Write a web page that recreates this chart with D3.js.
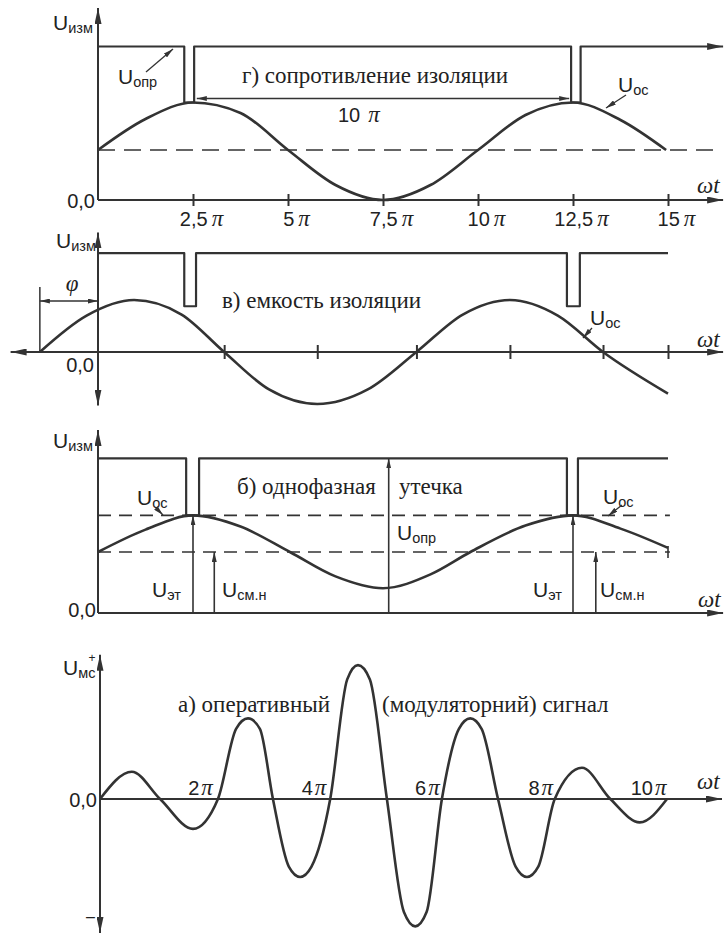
<!DOCTYPE html>
<html>
<head>
<meta charset="utf-8">
<script src="https://cdn.jsdelivr.net/npm/d3@7"></script>
<style>
  body { margin: 0; background: #fff; }
  text { fill: #222; }
  .sans { font-family: "Liberation Sans", Arial, sans-serif; }
  .serif { font-family: "Liberation Serif", "DejaVu Serif", "Times New Roman", serif; }
  .it { font-family: "Liberation Serif", "DejaVu Serif", "Times New Roman", serif; font-style: italic; }
</style>
</head>
<body>
<svg width="727" height="936"></svg>
<script>
// ωt in units of π, U in arbitrary units

// г) сопротивление изоляции
const gTicks = [2.5, 5, 7.5, 10, 12.5, 15];
const gTickLabels = ["2,5", "5", "7,5", "10", "12,5", "15"];
const gCurve = [[0, 1.0], [1.25, 1.62], [2.5, 1.95], [3.75, 1.74], [5, 1.0], [6.25, 0.3], [7.5, 0.0],
                [8.75, 0.3], [10, 1.0], [11.25, 1.7], [12.5, 1.95], [13.75, 1.6], [14.95, 1.0]];
const gHigh = 3.07, gLow = 1.95;
const gGaps = [[2.27, 2.53], [12.45, 12.7]];
const gDash = 1.0;
const gPeriod = [2.6, 12.4], gPeriodLevel = 2.03;

// в) емкость изоляции
const cTicks = [3.32, 5.77, 8.38, 10.84, 13.29, 15];
const cCurve = [[-1.53, 0], [-0.3, 0.7], [0.95, 1.0], [2.2, 0.72], [3.32, 0], [4.5, -0.72], [5.77, -1.0],
                [7.1, -0.72], [8.38, 0], [9.6, 0.72], [10.84, 1.0], [12.1, 0.7], [13.29, 0], [15, -0.8]];
const cHigh = 1.9, cLow = 0.88;
const cGaps = [[2.27, 2.58], [12.34, 12.68]];
const cPhase = -1.53;

// б) однофазная утечка
const lCurve = [[0, 3.0], [1.25, 4.1], [2.5, 4.8], [3.75, 4.25], [5.05, 3.0], [6.25, 1.8], [7.5, 1.22],
                [8.75, 1.9], [9.8, 3.0], [11.25, 4.3], [12.5, 4.8], [13.75, 4.15], [15, 3.2]];
const lHigh = 7.6, lLow = 4.8;
const lGaps = [[2.32, 2.66], [12.34, 12.63]];
const lDash = [4.8, 3.0];
const lEt = [2.5, 12.5], lSm = [3.06, 13.1], lOpr = 7.65;

// а) оперативный (модуляторный) сигнал
const aTicks = [2, 4, 6, 8, 10];
const aCurve = [[0, 0], [0.56, 0.21], [1.06, 0], [1.64, -0.23], [2.08, 0],
                [2.4, 0.54], [2.61, 0.62], [2.82, 0.54], [3.05, 0],
                [3.33, -0.52], [3.53, -0.6], [3.73, -0.52], [4.06, 0],
                [4.36, 0.92], [4.55, 1.03], [4.76, 0.92], [5.06, 0],
                [5.36, -0.87], [5.56, -0.98], [5.76, -0.87], [6.03, 0],
                [6.33, 0.54], [6.53, 0.62], [6.73, 0.54], [7.02, 0],
                [7.33, -0.52], [7.53, -0.6], [7.73, -0.52], [8.02, 0],
                [8.5, 0.24], [9.0, 0], [9.52, -0.18], [10, 0]];

const ink = "#333";
const svg = d3.select("svg");
const defs = svg.append("defs");

function marker(id, len, wid) {
  defs.append("marker").attr("id", id)
    .attr("viewBox", `0 0 ${len} ${wid}`)
    .attr("refX", len).attr("refY", wid / 2)
    .attr("markerWidth", len).attr("markerHeight", wid)
    .attr("markerUnits", "userSpaceOnUse")
    .attr("orient", "auto-start-reverse")
    .append("path").attr("d", `M0,0L${len},${wid / 2}L0,${wid}Z`).attr("fill", ink);
}
marker("ax", 16, 7);
marker("ar", 10, 5);

function ln(g, xs, ys, pts, w, curve) {
  const gen = d3.line().x(d => xs(d[0])).y(d => ys(d[1]));
  if (curve) gen.curve(curve);
  return g.append("path").attr("d", gen(pts))
    .attr("fill", "none").attr("stroke", ink).attr("stroke-width", w)
    .attr("stroke-linejoin", "round");
}

function pulse(high, low, gaps, end) {
  const pts = [[0, high]];
  gaps.forEach(([a, b]) => pts.push([a, high], [a, low], [b, low], [b, high]));
  pts.push([end, high]);
  return pts;
}

function uLab(x, y, sub) {
  const t = svg.append("text").attr("class", "sans").attr("x", x).attr("y", y).style("font-size", "21px");
  t.append("tspan").text("U");
  t.append("tspan").attr("dy", 3).style("font-size", "14.5px").text(sub);
  return t;
}
function txt(x, y, s, cls, size, anchor) {
  return svg.append("text").attr("class", cls).attr("x", x).attr("y", y)
    .style("font-size", size + "px").attr("text-anchor", anchor || "start").text(s);
}
function arrow(x1, y1, x2, y2) {
  svg.append("line").attr("x1", x1).attr("y1", y1).attr("x2", x2).attr("y2", y2)
    .attr("stroke", ink).attr("stroke-width", 1.3).attr("marker-end", "url(#ar)");
}
function piLabels(sel, dx, anchor) {
  sel.each(function () {
    const t = d3.select(this), s = t.text();
    t.text(null).attr("class", "sans").style("font-size", "20px").attr("text-anchor", anchor).attr("fill", "#222");
    t.append("tspan").text(s);
    t.append("tspan").attr("class", "it").attr("dx", dx).style("font-size", "23px").text("π");
  });
}

const xT = d3.scaleLinear().domain([0, 15]).range([98, 668]);
const capSize = 23;

// ---------- г) ----------
const yG = d3.scaleLinear().domain([0, 3.84]).range([200, 8]);
const pG = svg.append("g");
ln(pG, xT, yG, [[0, gDash], [16.4, gDash]], 1.6).attr("stroke-dasharray", "17,9");
ln(pG, xT, yG, [[0, 0], [0, 3.84]], 2).attr("marker-end", "url(#ax)");
ln(pG, xT, yG, [[0, 0], [16.45, 0]], 2).attr("marker-end", "url(#ax)");
ln(pG, xT, yG, pulse(gHigh, gLow, gGaps, 16.45), 2.2).attr("marker-end", "url(#ax)");
ln(pG, xT, yG, gPeriod.map(v => [v, gPeriodLevel]), 1.6)
  .attr("marker-start", "url(#ar)").attr("marker-end", "url(#ar)");
ln(pG, xT, yG, gCurve, 2.6, d3.curveMonotoneX);
const axG = pG.append("g").attr("transform", `translate(0,${yG(0)})`).attr("color", ink)
  .call(d3.axisBottom(xT).tickValues(gTicks).tickSize(6).tickFormat((d, i) => gTickLabels[i]));
axG.select(".domain").remove();
axG.selectAll(".tick line").attr("y1", -6).attr("stroke-width", 2);
axG.selectAll(".tick text").attr("y", 26).attr("dy", null).attr("x", 8).call(piLabels, 4, "middle");

uLab(53, 30, "изм");
uLab(118, 84, "опр");
arrow(146, 72, 173, 49);
txt(242, 83, "г) сопротивление изоляции", "serif", capSize);
const t10 = txt(338, 122, "10", "sans", 20);
t10.append("tspan").attr("class", "it").attr("dx", 8).style("font-size", "23px").text("π");
uLab(618, 92, "ос");
arrow(626, 95, 606, 108);
txt(697, 193, "ωt", "it", 23);
txt(95, 208, "0,0", "sans", 20, "end");

// ---------- в) ----------
const yC = d3.scaleLinear().domain([-1, 2.3]).range([404, 232.4]);
const pC = svg.append("g");
ln(pC, xT, yC, [[0, -1.03], [0, 2.3]], 2).attr("marker-start", "url(#ax)").attr("marker-end", "url(#ax)");
ln(pC, xT, yC, [[-2.3, 0], [16.45, 0]], 2).attr("marker-start", "url(#ax)").attr("marker-end", "url(#ax)");
ln(pC, xT, yC, pulse(cHigh, cLow, cGaps, 15), 2.2);
ln(pC, xT, yC, cCurve, 2.6, d3.curveMonotoneX);
ln(pC, xT, yC, [[cPhase, 0], [cPhase, 1.25]], 1.5);
ln(pC, xT, yC, [[cPhase, 0.98], [0, 0.98]], 1.5)
  .attr("marker-start", "url(#ar)").attr("marker-end", "url(#ar)");
const axC = pC.append("g").attr("transform", `translate(0,${yC(0)})`).attr("color", ink)
  .call(d3.axisBottom(xT).tickValues(cTicks).tickSize(7).tickFormat(""));
axC.select(".domain").remove();
axC.selectAll(".tick line").attr("y1", -7).attr("stroke-width", 2);

uLab(56, 248, "изм");
txt(72, 291, "φ", "it", 23, "middle");
txt(222, 308, "в) емкость изоляции", "serif", capSize);
uLab(590, 325, "ос");
arrow(592, 328, 583, 338);
txt(697, 347, "ωt", "it", 23);
txt(94, 372, "0,0", "sans", 20, "end");

// ---------- б) ----------
const yL = d3.scaleLinear().domain([0, 9]).range([613, 430]);
const pL = svg.append("g");
lDash.forEach(v => ln(pL, xT, yL, [[0, v], [15.05, v]], 1.6).attr("stroke-dasharray", "13,8"));
ln(pL, xT, yL, [[15, lDash[1] - 0.3], [15, lDash[1] + 0.3]], 1.6);
ln(pL, xT, yL, [[0, 0], [0, 9]], 2).attr("marker-end", "url(#ax)");
ln(pL, xT, yL, [[0, 0], [16.45, 0]], 2).attr("marker-end", "url(#ax)");
ln(pL, xT, yL, pulse(lHigh, lLow, lGaps, 15), 2.2);
ln(pL, xT, yL, lCurve, 2.6, d3.curveMonotoneX);
lEt.forEach(v => ln(pL, xT, yL, [[v, 0], [v, lLow]], 1.6).attr("marker-end", "url(#ar)"));
lSm.forEach(v => ln(pL, xT, yL, [[v, 0], [v, lDash[1]]], 1.6).attr("marker-end", "url(#ar)"));
ln(pL, xT, yL, [[lOpr, 0], [lOpr, lHigh]], 1.6).attr("marker-end", "url(#ar)");

uLab(53, 448, "изм");
txt(237, 494, "б) однофазная", "serif", capSize);
txt(399, 494, "утечка", "serif", capSize);
uLab(137, 505, "ос");
arrow(156, 508, 163, 515);
uLab(603, 504, "ос");
arrow(622, 505, 608, 516);
uLab(397, 540, "опр");
uLab(152, 597, "эт");
uLab(222, 597, "см.н");
uLab(533, 597, "эт");
uLab(600, 597, "см.н");
txt(698, 607, "ωt", "it", 23);
txt(96, 617, "0,0", "sans", 20, "end");

// ---------- а) ----------
const xA = d3.scaleLinear().domain([0, 10]).range([100, 667]);
const yA = d3.scaleLinear().domain([-1, 1]).range([929, 669]);
const pA = svg.append("g");
ln(pA, xA, yA, [[0, -1.03], [0, 1.11]], 2).attr("marker-start", "url(#ax)").attr("marker-end", "url(#ax)");
ln(pA, xA, yA, [[0, 0], [10.97, 0]], 2).attr("marker-end", "url(#ax)");
ln(pA, xA, yA, aCurve, 2.6, d3.curveMonotoneX);
const axA = pA.append("g").attr("transform", `translate(0,${yA(0)})`).attr("color", ink)
  .call(d3.axisTop(xA).tickValues(aTicks).tickSize(0).tickFormat(d => d));
axA.select(".domain").remove();
axA.selectAll(".tick text").attr("y", -4).attr("dy", null).attr("x", -1).call(piLabels, 2, "end");

const um = uLab(63, 675, "мс");
um.append("tspan").attr("dx", -7).attr("dy", -16).style("font-size", "12px").text("+");
txt(86, 922, "–", "sans", 16);
txt(178, 712, "а) оперативный", "serif", capSize);
txt(382, 712, "(модуляторний) сигнал", "serif", capSize);
txt(697, 789, "ωt", "it", 23);
txt(97, 807, "0,0", "sans", 20, "end");
</script>
</body>
</html>
